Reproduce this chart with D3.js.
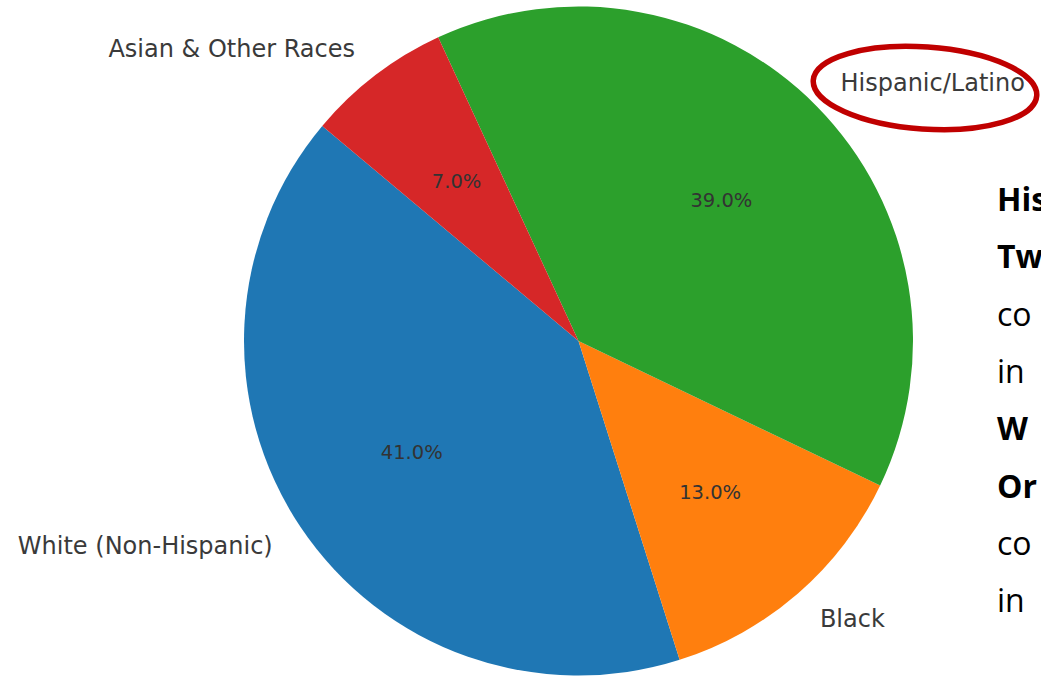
<!DOCTYPE html>
<html>
<head>
<meta charset="utf-8">
<script src="https://cdn.jsdelivr.net/npm/d3@7"></script>
<style>
  body { margin: 0; background: #fff; }
  svg { display: block; }
</style>
</head>
<body>
<div id="chart"></div>
<script>
const categories = ["White (Non-Hispanic)", "Black", "Hispanic/Latino", "Asian & Other Races"];
const shares = [41.0, 13.0, 39.0, 7.0];
const colors = ["#1f77b4", "#ff7f0e", "#2ca02c", "#d62728"];
// text cut off at the right edge of the slide
const sideLines = ["His", "Tw", "co", "in", "W", "Or", "co", "in"];
const sideBold = [true, true, false, false, true, true, false, false];

const width = 1041, height = 676;
const cx = 578.5, cy = 341, radius = 334.5;

const svg = d3.select("#chart").append("svg")
  .attr("width", width)
  .attr("height", height);

const data = categories.map((c, i) => ({ label: c, value: shares[i], color: colors[i] }));

// matplotlib style: startangle 140 deg from 3 o'clock, counter-clockwise
const start = Math.PI / 2 - 140 * Math.PI / 180;
const pie = d3.pie()
  .value(d => d.value)
  .sort(null)
  .startAngle(start)
  .endAngle(start - 2 * Math.PI);

const arcs = pie(data);

const g = svg.append("g").attr("transform", `translate(${cx},${cy})`);

const arc = d3.arc().innerRadius(0).outerRadius(radius);
const labelArc = d3.arc().innerRadius(radius * 1.1).outerRadius(radius * 1.1);
const pctArc = d3.arc().innerRadius(radius * 0.6).outerRadius(radius * 0.6);

g.selectAll(".slice")
  .data(arcs)
  .enter()
  .append("path")
  .attr("class", "slice")
  .attr("d", arc)
  .attr("fill", d => d.data.color);

g.selectAll(".label")
  .data(arcs)
  .enter()
  .append("text")
  .attr("class", "label")
  .attr("transform", d => `translate(${labelArc.centroid(d)})`)
  .attr("text-anchor", d => labelArc.centroid(d)[0] < 0 ? "end" : "start")
  .attr("dominant-baseline", "central")
  .style("font-family", "DejaVu Sans")
  .style("font-size", "24px")
  .style("fill", "#3a3a3a")
  .text(d => d.data.label);

g.selectAll(".pct")
  .data(arcs)
  .enter()
  .append("text")
  .attr("class", "pct")
  .attr("transform", d => `translate(${pctArc.centroid(d)})`)
  .attr("text-anchor", "middle")
  .attr("dominant-baseline", "central")
  .style("font-family", "DejaVu Sans")
  .style("font-size", "19.5px")
  .style("fill", "#333")
  .text(d => d.data.value.toFixed(1) + "%");

// red highlight ellipse round the Hispanic/Latino label
svg.append("ellipse")
  .attr("cx", 925)
  .attr("cy", 88)
  .attr("rx", 112)
  .attr("ry", 41)
  .attr("transform", "rotate(4 925 88)")
  .attr("fill", "none")
  .attr("stroke", "#c00000")
  .attr("stroke-width", 5.5);

svg.selectAll(".side")
  .data(sideLines)
  .enter()
  .append("text")
  .attr("class", "side")
  .attr("x", 997)
  .attr("y", (d, i) => 211 + i * 57.3)
  .style("font-family", "Open Sans")
  .style("font-size", "32px")
  .style("font-weight", (d, i) => sideBold[i] ? "bold" : "normal")
  .style("fill", "#000")
  .text(d => d);
</script>
</body>
</html>
